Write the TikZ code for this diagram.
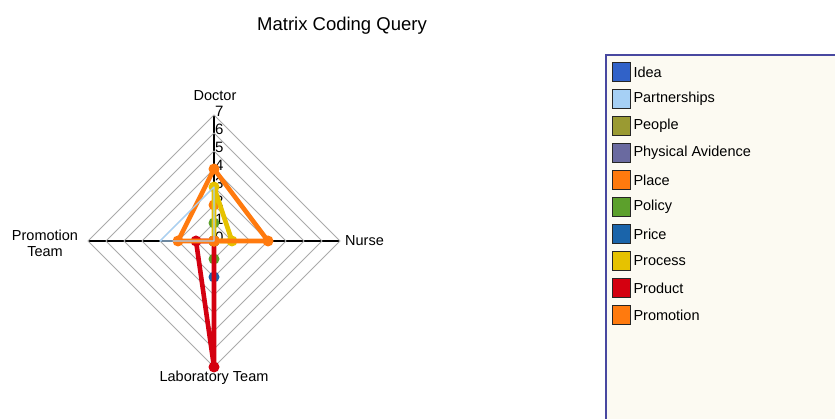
\documentclass[tikz,border=0pt]{standalone}
\usepackage{fontspec}
\setmainfont{Liberation Sans}
\usetikzlibrary{calc}
\definecolor{cIdea}{HTML}{3162C8}
\definecolor{cPart}{HTML}{A6D0F5}
\definecolor{cPeople}{HTML}{9A9A32}
\definecolor{cPhys}{HTML}{6A6AA0}
\definecolor{cPlace}{HTML}{FF7A0E}
\definecolor{cPolicy}{HTML}{5CA02C}
\definecolor{cPrice}{HTML}{1A64AA}
\definecolor{cProcess}{HTML}{E6C200}
\definecolor{cProduct}{HTML}{D40010}
\definecolor{cPromo}{HTML}{FF7A0E}
\definecolor{cLegBorder}{HTML}{4848A0}
\definecolor{cLegFill}{HTML}{FCFAF2}
\definecolor{cGrid}{HTML}{AAAAAA}
\newcommand\defser[5]{%
  \coordinate (#1-d) at (214,{241-18*#2});
  \coordinate (#1-n) at ({214+18*#3},241);
  \coordinate (#1-l) at (214,{241+18*#4});
  \coordinate (#1-p) at ({214-18*#5},241);}
\newcommand\drawser[2]{%
  \draw[serline,#2] (#1-d) -- (#1-n) -- (#1-l) -- (#1-p) -- cycle;
  \foreach \q in {d,n,l,p} \fill[#2] (#1-\q) circle (5.5pt);}
\begin{document}
\begin{tikzpicture}[x=1pt,y=-1pt,
  axisline/.style={black,line width=1.5pt},
  gridline/.style={cGrid,line width=0.8pt},
  serline/.style={line width=4.6pt,line join=round,line cap=round},
  lbl/.style={font=\fontsize{14.5}{16}\selectfont,inner sep=1pt},
  num/.style={font=\fontsize{15}{15}\selectfont,inner sep=1pt,anchor=west},
  swatch/.style={draw=black!85,line width=1.1pt,minimum size=18.5pt,inner sep=0pt},
  legtext/.style={font=\fontsize{14.5}{16}\selectfont,anchor=west,inner sep=1pt}]
\useasboundingbox (0,0) rectangle (835,419);
\fill[white] (0,0) rectangle (835,419);
% title
\node[font=\fontsize{18.5}{20}\selectfont] (title) at (342,26) {Matrix Coding Query};
% axes
\coordinate (C) at (214,241);
\coordinate (AD) at (214,115);
\coordinate (AN) at (340,241);
\coordinate (AL) at (214,367);
\coordinate (AP) at (88,241);
\draw[axisline] (AP) -- (AN);
\draw[axisline] (AD) -- (AL);
% grid
\foreach \k in {1,...,7}
  \draw[gridline] (214,{241-18*\k}) -- ({214+18*\k},241) -- (214,{241+18*\k}) -- ({214-18*\k},241) -- cycle;
% axis numbers
\foreach \v in {0,...,7}
  \node[num] (n\v) at (214,{237-18*\v}) {\v};
% axis labels
\node[lbl] (doc) at (215,96) {Doctor};
\node[lbl,anchor=west] (nur) at (344,241) {Nurse};
\node[lbl,align=center] (pro) at (45,243) {Promotion\\Team};
\node[lbl] (lab) at (214,378) {Laboratory Team};
% series
\defser{promo}{2}{0}{0}{0}
\defser{price}{0}{0}{2}{0}
\defser{policy}{1}{0}{1}{0}
\defser{product}{0}{0}{7}{1}
\defser{process}{3}{1}{0}{0}
\defser{place}{4}{3}{0}{2}
\defser{part}{3}{0}{0}{3}
\drawser{promo}{cPromo}
\drawser{price}{cPrice}
\drawser{policy}{cPolicy}
\drawser{product}{cProduct}
\drawser{process}{cProcess}
\drawser{place}{cPlace}
\draw[cPart,line width=1.2pt,line join=round] (part-d) -- (part-n) -- (part-l) -- (part-p) -- cycle;
% legend
\draw[cLegBorder,fill=cLegFill,line width=1.5pt] (606,55) rectangle (845,430);
\foreach \nm/\col [count=\i from 0] in {Idea/cIdea,Partnerships/cPart,People/cPeople,Physical Avidence/cPhys,Place/cPlace,Policy/cPolicy,Price/cPrice,Process/cProcess,Product/cProduct,Promotion/cPromo}{
  \node[swatch,fill=\col] (sw\i) at (621.5,{72+27*\i}) {};
  \node[legtext] (lt\i) at ([xshift=1pt]sw\i.east) {\nm};
}
\end{tikzpicture}
\end{document}
